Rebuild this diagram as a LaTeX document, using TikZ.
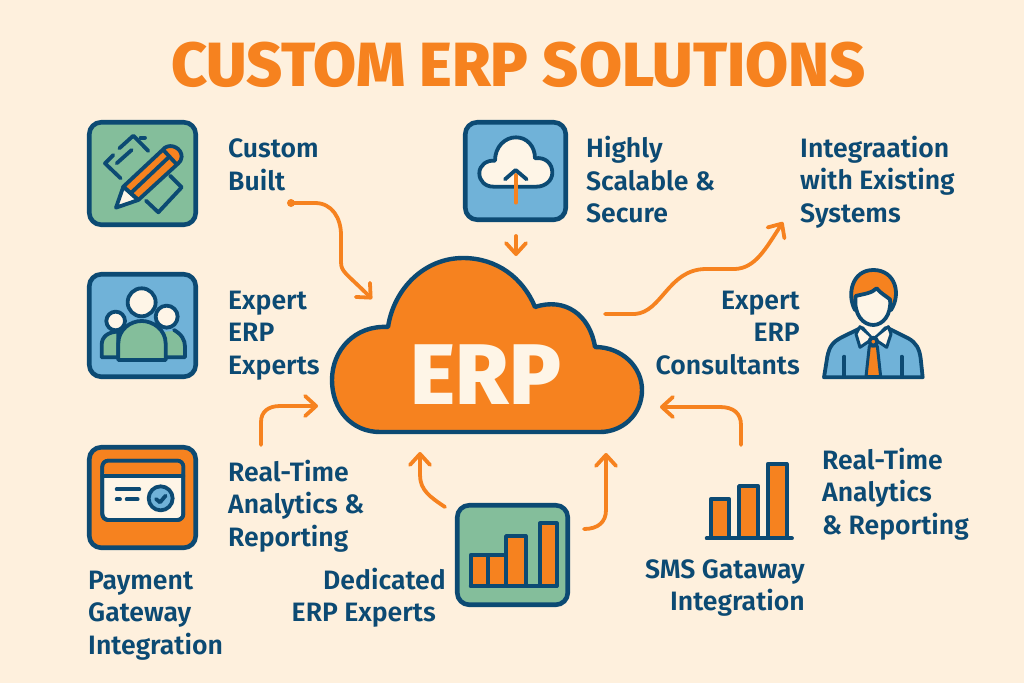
\documentclass[tikz,border=0pt]{standalone}
\usepackage{fontspec}
\setmainfont{Fira Sans}
\newfontfamily\lab{Fira Sans SemiBold}
\newfontfamily\heavy{Fira Sans ExtraBold}
\usetikzlibrary{arrows.meta}
\definecolor{bg}{HTML}{FEF0DD}
\definecolor{navy}{HTML}{0C4A73}
\definecolor{org}{HTML}{F6821F}
\definecolor{grn}{HTML}{84BE9B}
\definecolor{blu}{HTML}{70B2D8}
\definecolor{crm}{HTML}{FEF5E7}
\tikzset{
 lbl/.style={inner sep=0pt,text=navy,font=\lab\fontsize{26.6}{32.5}\selectfont},
 lleft/.style={lbl,align=left,anchor=west},
 lright/.style={lbl,align=right,anchor=east},
 conn/.style={draw=org,line width=3.8pt,line cap=round,line join=round,-{Straight Barb[length=11pt,width=20pt,line width=3.8pt,round]}},
 iconbox/.style={draw=navy,line width=4.6pt,rounded corners=12pt},
 ic/.style={draw=navy,line width=3.8pt,line cap=round,line join=round},
 zoomA/.style={x=0.3333pt,y=-0.3333pt}
}
\begin{document}
\begin{tikzpicture}[x=1pt,y=-1pt]
\path[use as bounding box,fill=bg] (0,0) rectangle (1024,683);
\node[inner sep=0pt,text=org,font=\heavy\fontsize{62.4}{62.4}\selectfont] (title) at (518.5,65) {CUSTOM ERP SOLUTIONS};

% central cloud
\path[fill=org,draw=navy,line width=4.4pt,line join=round]
 (388,327) .. controls (394,288) and (425,258) .. (463,258)
 .. controls (497,258) and (523,278) .. (535,307)
 .. controls (565,297) and (590,315) .. (595,347)
 .. controls (622,347) and (642,367) .. (642,390)
 .. controls (642,415) and (622,432) .. (600,432)
 -- (380,432)
 .. controls (352,432) and (332,410) .. (332,380)
 .. controls (332,350) and (355,325) .. (388,327) -- cycle;
\node[inner sep=0pt,text=crm,font=\heavy\fontsize{86}{86}\selectfont] (erp) at (486,375) {ERP};

% icon 1: pencil
\node[iconbox,fill=grn,minimum width=106.5pt,minimum height=102.5pt] (box1) at (142.5,173.5) {};
\begin{scope}[shift={(70,105)},zoomA]
 \draw[ic] (130,150)--(105,175)--(152,220);
 \draw[ic] (148,130)--(190,92)--(235,138);
 \draw[ic] (212,98)--(225,98);
 \draw[ic] (140,175)--(185,135);
 \draw[ic] (300,212)--(335,247)--(265,322)--(228,287);
 \path[fill=crm] (138,308)--(160,245)--(200,285)--cycle;
 \path[ic,fill=org] (160,245)--(285,128) .. controls (305,115) and (335,130) .. (335,155) .. controls (335,165) and (330,170) .. (325,175)--(205,285)--cycle;
 \draw[ic] (138,308)--(160,245)--(205,285)--cycle;
 \draw[ic] (185,262)--(298,155);
 \draw[ic] (280,135)--(320,178);
\end{scope}

% icon 2: people
\node[iconbox,fill=blu,minimum width=106.5pt,minimum height=102.5pt] (box2) at (142.5,325.5) {};
\begin{scope}[shift={(70,105)},zoomA]
 \path[ic,fill=grn] (95,757)--(95,720) .. controls (95,695) and (115,680) .. (145,680)--(145,757)--cycle;
 \path[fill=grn] (285,680)--(315,678) .. controls (335,690) and (345,705) .. (345,725)--(345,757)--(285,757)--cycle;
 \draw[ic] (312,675) .. controls (335,688) and (345,705) .. (345,725)--(345,757)--(285,757);
 \path[ic,fill=crm] (137,648) circle[radius=28];
 \path[ic,fill=crm] (290,635) circle[radius=33];
 \path[ic,fill=grn] (145,765)--(145,715) .. controls (145,675) and (180,648) .. (215,648) .. controls (250,648) and (287,675) .. (287,715)--(287,765)--cycle;
 \path[ic,fill=crm] (215,592) circle[radius=42];
\end{scope}

% icon 3: payment card
\node[iconbox,fill=org,minimum width=106.5pt,minimum height=100.5pt] (box3) at (142.5,497.5) {};
\begin{scope}[shift={(70,430)},zoomA]
 \path[ic,fill=crm,rounded corners=6pt] (97,92) rectangle (340,270);
 \path[fill=org,rounded corners=4pt] (100,96) rectangle (336,135);
 \draw[ic,rounded corners=6pt] (97,92) rectangle (340,270);
 \draw[ic] (97,137)--(340,137);
 \draw[ic] (140,178)--(208,178);
 \draw[ic] (140,208)--(150,208);
 \draw[ic] (170,208)--(203,208);
 \path[ic,fill=blu] (272,205) circle[radius=36];
 \draw[ic] (258,207)--(270,217)--(287,197);
\end{scope}

% icon 4: upload cloud
\node[iconbox,fill=blu,minimum width=100.5pt,minimum height=97.5pt] (box4) at (515.5,171) {};
\begin{scope}[shift={(450,110)},zoomA]
 \path[ic,fill=crm] (135,152) .. controls (135,110) and (165,82) .. (198,82)
  .. controls (230,82) and (255,108) .. (255,145)
  .. controls (285,140) and (307,160) .. (307,188)
  .. controls (307,212) and (285,230) .. (260,230)
  -- (130,230)
  .. controls (105,230) and (88,212) .. (88,190)
  .. controls (88,165) and (110,150) .. (135,152) -- cycle;
 \draw[draw=org,line width=3.8pt,line cap=round] (197,195)--(197,278);
 \draw[ic] (165,208)--(197,180)--(230,208);
\end{scope}

% icon 5: bar chart in box
\node[iconbox,fill=grn,minimum width=110.5pt,minimum height=99.5pt] (box5) at (512.5,555) {};
\begin{scope}[shift={(440,440)},zoomA]
 \path[ic,fill=org] (92,345) rectangle (145,437);
 \path[ic,fill=org] (145,345) rectangle (198,437);
 \path[ic,fill=org] (198,288) rectangle (257,437);
 \path[ic,fill=org] (300,250) rectangle (350,437);
 \draw[ic] (92,437)--(350,437);
 % free bars
 \path[ic,fill=org] (812,178) rectangle (868,295);
 \path[ic,fill=org] (897,138) rectangle (955,295);
 \path[ic,fill=org] (983,72) rectangle (1040,295);
 \draw[ic] (800,295)--(1056,295);
\end{scope}

% consultant
\begin{scope}[shift={(810,260)},zoomA]
 \path[ic,fill=blu] (42,352) -- (52,290) .. controls (58,258) and (70,245) .. (95,232) -- (150,205) -- (235,205) -- (295,235) .. controls (318,248) and (328,265) .. (332,295) -- (338,352) -- cycle;
 \path[fill=crm,draw=navy,line width=3pt,line join=round] (150,200)--(190,235)--(150,262)--(138,222)--cycle;
 \path[fill=crm,draw=navy,line width=3pt,line join=round] (235,200)--(190,235)--(230,262)--(243,222)--cycle;
 \path[fill=crm] (157,195)--(228,195)--(190,232)--cycle;
 \path[fill=org,draw=navy,line width=3pt,line join=round] (178,258)--(202,258)--(212,350)--(168,350)--cycle;
 \path[ic,fill=org] (190,245) circle[radius=12];
 \draw[ic] (103,290)--(103,350);
 \draw[ic] (275,290)--(275,350);
 \path[ic,fill=org] (135,150) .. controls (110,105) and (125,30) .. (190,30) .. controls (255,30) and (275,100) .. (243,150) -- cycle;
 \path[ic,fill=crm] (137,108) .. controls (160,102) and (185,100) .. (200,85) .. controls (212,100) and (228,108) .. (240,118) .. controls (245,165) and (218,195) .. (190,195) .. controls (160,195) and (130,165) .. (137,108) -- cycle;
\end{scope}

% labels
\node[lleft] (l1) at (228,165) {Custom\\Built};
\node[lleft] (l2) at (586,180) {Highly\\Scalable \&\\Secure};
\node[lleft] (l3) at (800,182) {Integraation\\with Existing\\Systems};
\node[lleft] (l4) at (228,335.5) {Expert\\ERP\\Experts};
\node[lright] (l5) at (800,333) {Expert\\ERP\\Consultants};
\node[lleft] (l6) at (228,506) {Real-Time\\Analytics \&\\Reporting};
\node[lleft] (l7) at (822,494) {Real-Time\\Analytics\\\& Reporting};
\node[lleft] (l8) at (88,615.5) {Payment\\Gateway\\Integration};
\node[lright] (l9) at (446,597.5) {Dedicated\\ERP Experts\hspace*{10pt}};
\node[lright] (l10) at (805,588) {SMS Gataway\\Integration};

% connectors
\coordinate (a1s) at (291,203); \coordinate (a1e) at (372,299);
\coordinate (a2s) at (516,236); \coordinate (a2e) at (516,256);
\coordinate (a3s) at (605,314); \coordinate (a3e) at (783,222);
\coordinate (a4s) at (261,445); \coordinate (a4e) at (318,406);
\coordinate (a5s) at (445,507); \coordinate (a5e) at (420,452);
\coordinate (a6s) at (584,529); \coordinate (a6e) at (606,453);
\coordinate (a7s) at (741,445); \coordinate (a7e) at (660,407);
\fill[org] (a1s) circle[radius=4pt];
\draw[conn] (a1s) -- (315,203) .. controls (332,203) and (341,218) .. (341,235) -- (341,262) .. controls (341,272) and (346,273) .. (a1e);
\draw[conn] (a2s) -- (a2e);
\draw[conn] (a3s) -- (635,314) .. controls (662,312) and (668,270) .. (705,269) -- (735,269) .. controls (755,268) and (765,250) .. (a3e);
\draw[conn] (a4s) -- (261,422) .. controls (261,412) and (268,406) .. (280,406) -- (a4e);
\draw[conn] (a5s) .. controls (430,497) and (420,490) .. (420,475) -- (a5e);
\draw[conn] (a6s) .. controls (598,529) and (606,522) .. (606,510) -- (a6e);
\draw[conn] (a7s) -- (741,425) .. controls (741,413) and (733,407) .. (720,407) -- (a7e);
\end{tikzpicture}
\end{document}
